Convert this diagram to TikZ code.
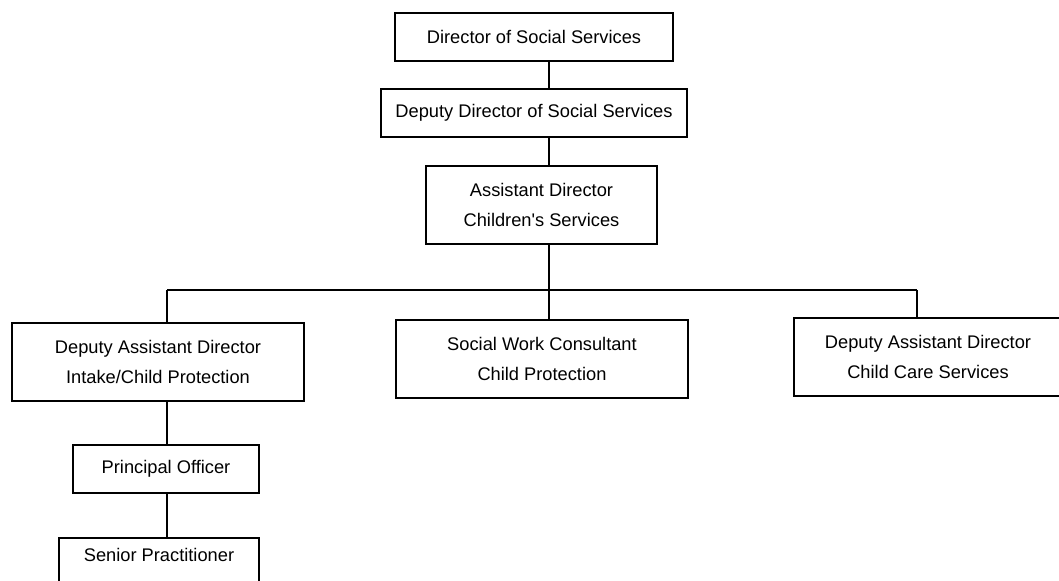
\documentclass[tikz,border=0pt]{standalone}
\usepackage{fontspec}
\setmainfont{Liberation Sans}[Ligatures=TeXOff]
\begin{document}
\begin{tikzpicture}[x=0.75pt,y=0.75pt,yscale=-1,xscale=1,
  office/.style={draw,line width=1.6pt,inner sep=0pt,align=center,
    font=\fontsize{13.7}{23}\selectfont},
  link/.style={line width=1.6pt}]
\useasboundingbox (0,0) rectangle (1059,581);

% Offices, top down
\node [office,minimum width=208.5pt,minimum height=36pt] (director) at (534,37) {Director of Social Services};
\node [office,minimum width=229.5pt,minimum height=36pt] (deputy) at (534,113) {Deputy Director of Social Services};
\node [office,minimum width=173.25pt,minimum height=58.5pt] (assistant) at (541.5,205) {Assistant Director\\Children's Services};

% Second tier
\node [office,minimum width=219pt,minimum height=58.5pt] (intake) at (158,362) {Deputy Assistant Director\\Intake/Child Protection};
\node [office,minimum width=219pt,minimum height=58.5pt] (consult) at (542,359) {Social Work Consultant\\Child Protection};
\node [office,minimum width=201pt,minimum height=58.5pt] (care) at (928,357) {Deputy Assistant Director\\Child Care Services};

% Intake line
\node [office,minimum width=139.5pt,minimum height=36pt] (principal) at (166,469) {Principal Officer};
\node [office,minimum width=150pt,anchor=north,text height=17.5pt,text depth=40pt] (senior) at (159,537) {Senior Practitioner};

% Spine and bus bar
\coordinate (spine) at (549,290);
\coordinate (busL) at (167,290);
\coordinate (busR) at (917,290);

\draw [link] (director.south -| spine) -- (deputy.north -| spine);
\draw [link] (deputy.south -| spine) -- (assistant.north -| spine);
\draw [link] (assistant.south -| spine) -- (spine);
\draw [link] (busL) -- (busR);
\draw [link] (busL) -- (intake.north -| busL);
\draw [link] (spine) -- (consult.north -| spine);
\draw [link] (busR) -- (care.north -| busR);
\draw [link] (intake.south -| busL) -- (principal.north -| busL);
\draw [link] (principal.south -| busL) -- (senior.north -| busL);

\end{tikzpicture}
\end{document}
